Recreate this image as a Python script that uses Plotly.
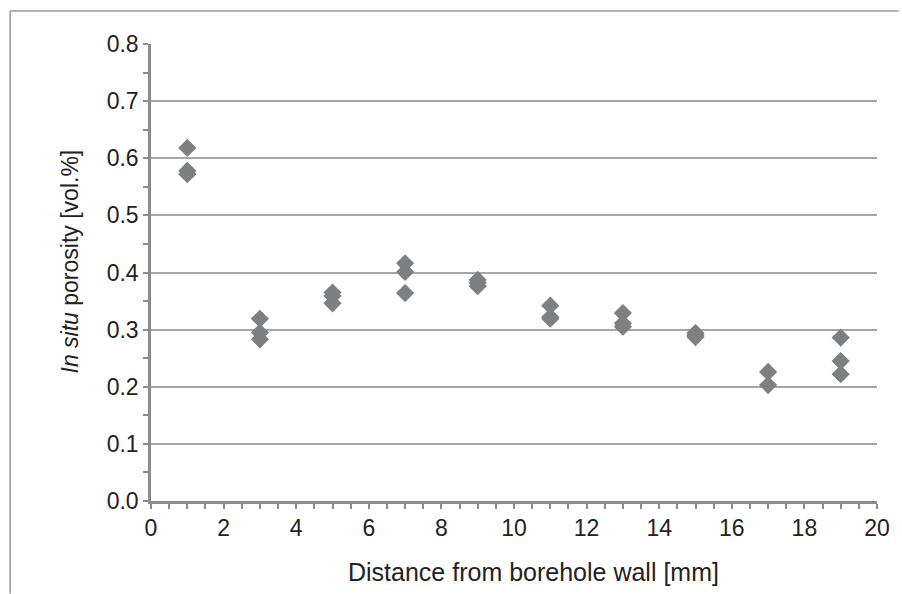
import plotly.graph_objects as go

# Data
distance_mm = [1, 1, 1, 3, 3, 3, 5, 5, 5, 7, 7, 7, 9, 9, 9,
               11, 11, 11, 13, 13, 13, 15, 15, 15, 17, 17, 19, 19, 19]
porosity = [0.618, 0.578, 0.572, 0.319, 0.295, 0.283, 0.365, 0.359, 0.346,
            0.416, 0.401, 0.364, 0.387, 0.382, 0.376,
            0.342, 0.322, 0.319, 0.329, 0.311, 0.305,
            0.294, 0.290, 0.287, 0.226, 0.203, 0.286, 0.245, 0.222]
x_ticks = [0, 2, 4, 6, 8, 10, 12, 14, 16, 18, 20]
y_ticks = [0.0, 0.1, 0.2, 0.3, 0.4, 0.5, 0.6, 0.7, 0.8]
y_tick_labels = ["0.0", "0.1", "0.2", "0.3", "0.4", "0.5", "0.6", "0.7", "0.8"]
x_title = "Distance from borehole wall [mm]"
y_title = "<i>In situ</i> porosity [vol.%]"

AX = "#8c8c8c"
FONT = "Liberation Sans, Arial, sans-serif"
TXT = "#222222"

fig = go.Figure()
fig.add_trace(go.Scatter(
    x=distance_mm, y=porosity, mode="markers",
    marker=dict(symbol="diamond", size=14, color="#7d7f83", line=dict(width=0)),
    showlegend=False, cliponaxis=False,
))

fig.update_layout(
    width=902, height=594,
    margin=dict(l=151, r=19, t=44, b=93),
    paper_bgcolor="white", plot_bgcolor="white",
    font=dict(family=FONT, color=TXT),
    xaxis=dict(
        range=[0, 20], tickvals=x_ticks, ticktext=[str(v) for v in x_ticks],
        showgrid=False, zeroline=False,
        showline=True, linecolor=AX, linewidth=2.5,
        ticks="outside", ticklen=5, tickwidth=2, tickcolor=AX,
        minor=dict(dtick=0.5, ticks="outside", ticklen=5, tickwidth=2, tickcolor=AX),
        tickfont=dict(size=23, family=FONT, color=TXT),
    ),
    yaxis=dict(
        range=[0, 0.8], tickvals=y_ticks, ticktext=y_tick_labels,
        showgrid=True, gridcolor="#a6a6a6", gridwidth=2,
        zeroline=False,
        showline=True, linecolor=AX, linewidth=2.5,
        ticks="outside", ticklen=5, tickwidth=2, tickcolor=AX,
        minor=dict(dtick=0.05, ticks="outside", ticklen=5, tickwidth=2, tickcolor=AX, showgrid=False),
        tickfont=dict(size=23, family=FONT, color=TXT),
    ),
    annotations=[
        dict(text=x_title, xref="paper", yref="paper", x=0.527, y=-0.155,
             xanchor="center", yanchor="middle", showarrow=False,
             font=dict(size=25, family=FONT, color=TXT)),
        dict(text=y_title, xref="paper", yref="paper", x=-0.111, y=0.525,
             xanchor="center", yanchor="middle", showarrow=False, textangle=-90,
             font=dict(size=23, family=FONT, color=TXT)),
    ],
    shapes=[
        dict(type="line", xref="paper", yref="paper", x0=-0.194, x1=1.03, y0=1.072, y1=1.072,
             line=dict(color="#9a9a9a", width=1.5)),
        dict(type="line", xref="paper", yref="paper", x0=-0.194, x1=-0.194, y0=1.072, y1=-0.203,
             line=dict(color="#9a9a9a", width=1.5)),
    ],
)

fig.write_html("out.html", config={"displayModeBar": False},
               post_script="document.body.style.margin='0';document.body.style.overflow='hidden';")
